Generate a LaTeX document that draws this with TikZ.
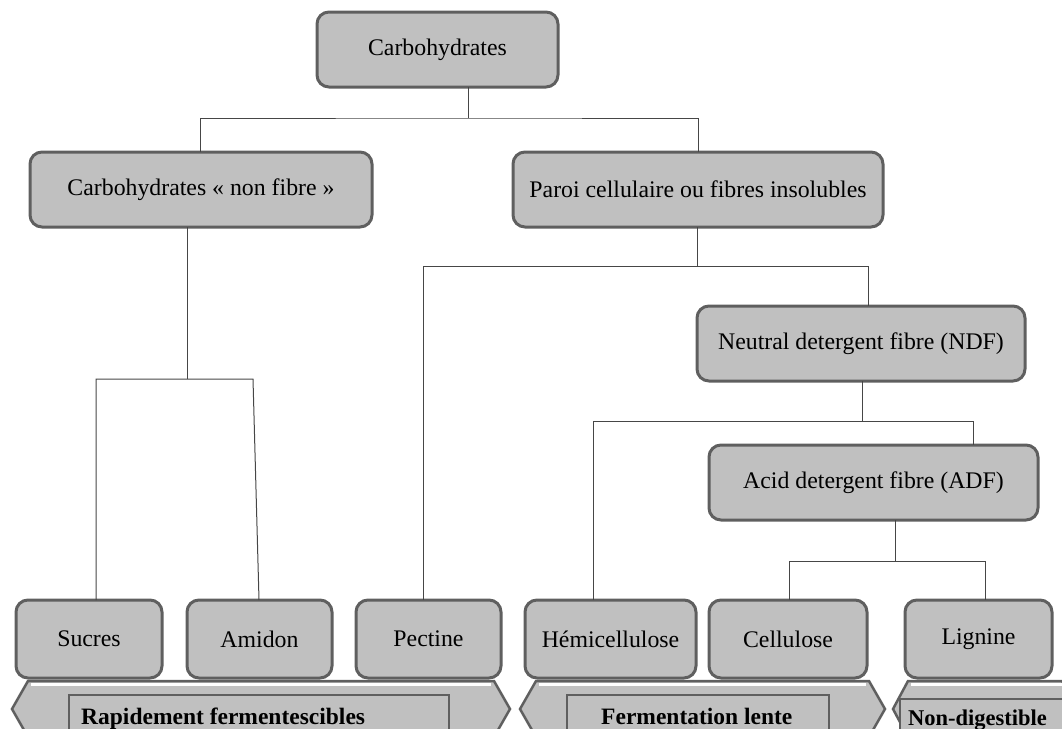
\documentclass[tikz,border=0pt]{standalone}
\usepackage{fontspec}
\setmainfont{Liberation Serif}
\definecolor{boxfill}{RGB}{192,192,192}
\definecolor{boxline}{RGB}{95,95,95}
\definecolor{conncol}{RGB}{70,70,70}
\begin{document}
\begin{tikzpicture}[x=1pt,y=-1pt,
  box/.style={draw=boxline, line width=3pt, fill=boxfill, rounded corners=12pt,
    minimum height=75pt, inner sep=0pt, outer sep=0pt,
    font=\fontsize{23.8}{28}\selectfont},
  lowbox/.style={box, minimum height=78pt},
  conn/.style={draw=conncol, line width=1pt},
  band/.style={draw=boxline, line width=2.5pt, fill=boxfill, line join=miter},
  lab/.style={font=\fontsize{23.5}{28}\selectfont\bfseries, inner sep=0pt, anchor=base west}]
\clip (0,0) rectangle (1062,728);
% boxes
\node[box, minimum width=241pt] (carb) at (437.5,49.5) {Carbohydrates};
\node[box, minimum width=342pt] (nonfib) at (201,189.5) {Carbohydrates « non fibre »};
\node[box, minimum width=370pt] (paroi) at (698,189.5) {Paroi cellulaire ou fibres insolubles};
\node[box, minimum width=328pt] (ndf) at (861,343.5) {Neutral detergent fibre (NDF)};
\node[box, minimum width=329pt] (adf) at (873.5,482.5) {Acid detergent fibre (ADF)};
\node[lowbox, minimum width=146pt] (sucres) at (89,639) {Sucres};
\node[lowbox, minimum width=145pt] (amidon) at (259.5,639) {Amidon};
\node[lowbox, minimum width=145pt] (pectine) at (428.5,639) {Pectine};
\node[lowbox, minimum width=171pt] (hemi) at (610.5,639) {Hémicellulose};
\node[lowbox, minimum width=158pt] (cellu) at (788,639) {Cellulose};
\node[lowbox, minimum width=147pt] (lign) at (978.5,639) {Lignine};
% connectors
\coordinate (j1) at (468,118);
\draw[conn] (carb.south -| j1) -- (j1);
\draw[conn] (nonfib.north -| 200,0) |- (j1) -| (paroi.north);
\coordinate (j2) at (187,379);
\draw[conn] (nonfib.south -| j2) -- (j2);
\coordinate (j2l) at (96,379);
\coordinate (j2r) at (253,379);
\draw[conn] (sucres.north -| j2l) -- (j2l) -- (j2r) -- (amidon.north -| 259,0);
\coordinate (j3) at (697,266);
\draw[conn] (paroi.south -| j3) -- (j3);
\coordinate (j3l) at (423,266);
\coordinate (j3r) at (868,266);
\draw[conn] (pectine.north -| j3l) -- (j3l) -- (j3r) -- (ndf.north -| j3r);
\coordinate (j4) at (862,421);
\draw[conn] (ndf.south -| j4) -- (j4);
\coordinate (j4l) at (593,421);
\coordinate (j4r) at (973,421);
\draw[conn] (hemi.north -| j4l) -- (j4l) -- (j4r) -- (adf.north -| j4r);
\coordinate (j5) at (895,561);
\draw[conn] (adf.south -| j5) -- (j5);
\coordinate (j5l) at (789,561);
\coordinate (j5r) at (985,561);
\draw[conn] (cellu.north -| j5l) -- (j5l) -- (j5r) -- (lign.north -| j5r);
% bottom bands
\draw[band] (12,709) -- (28,681) -- (494,681) -- (510,709) -- (494,737) -- (28,737) -- cycle;
\draw[white, line width=3pt] (31,684.5) -- (491,684.5);
\draw[band] (69,695) rectangle (449,750);
\node[lab] (rapid) at (81,724) {Rapidement fermentescibles};
\draw[band] (520,709) -- (536,681) -- (869,681) -- (885,709) -- (869,737) -- (536,737) -- cycle;
\draw[white, line width=3pt] (539,684.5) -- (866,684.5);
\draw[band] (567,695) rectangle (829,750);
\node[lab] (lente) at (601,724) {Fermentation lente};
\draw[band] (893,709) -- (908,681) -- (1062,681) -- (1080,709) -- (1062,737) -- (908,737) -- cycle;
\draw[white, line width=3pt] (911,684.5) -- (1062,684.5);
\draw[band] (900,699) rectangle (1090,750);
\node[lab, font=\fontsize{22.5}{27}\selectfont\bfseries] (nondig) at (908,725) {Non-digestible};
\end{tikzpicture}
\end{document}
